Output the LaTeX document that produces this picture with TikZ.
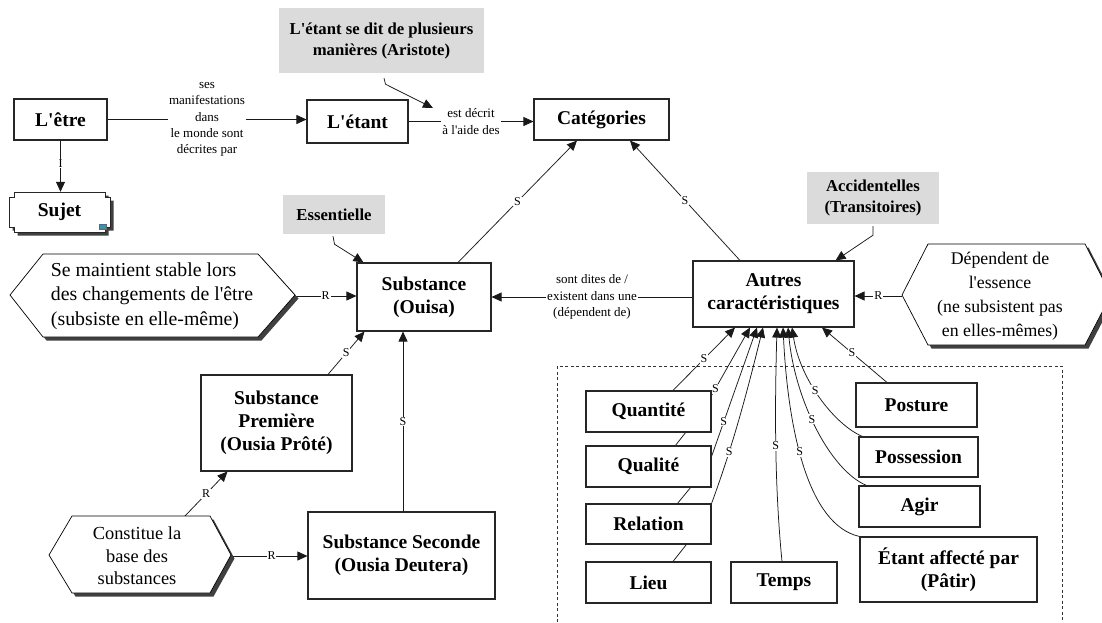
\documentclass[tikz,border=0pt]{standalone}
\usepackage{fontspec}
\setmainfont{Liberation Serif}
\usetikzlibrary{arrows.meta,shadows,backgrounds}
\newcommand{\ap}{\textquotesingle}
\begin{document}
\begin{tikzpicture}[x=1pt,y=-1pt,
  box/.style={draw=black!85, line width=1.1pt, fill=white, align=center, inner sep=0pt, font=\bfseries\fontsize{19.5}{23}\selectfont},
  gbox/.style={fill=black!14, align=center, inner sep=0pt, font=\bfseries\fontsize{16.7}{21}\selectfont},
  htxt/.style={inner sep=0pt},
  hexa/.style={draw=black, line width=0.7pt, fill=white, drop shadow={shadow xshift=3.5pt, shadow yshift=-3.5pt, fill=black!75, opacity=1}},
  lab/.style={fill=white, align=center, inner sep=1pt, font=\fontsize{13}{16.3}\selectfont},
  sl/.style={fill=white, inner sep=0.8pt, font=\fontsize{12}{12}\selectfont},
  arr/.style={draw=black!90, line width=0.75pt, -{Triangle[length=10pt,width=9pt]}},
]
\useasboundingbox (0,0) rectangle (1102,622);

% ---- top row
\node[box, minimum width=93, minimum height=41] (etre) at (60.5,119.5) {L\ap être};
\path[draw=black!85, line width=1pt, fill=white, drop shadow={shadow xshift=3.5pt, shadow yshift=-3.5pt, fill=black!75, opacity=1}]
  (14,192) -- (105,192) -- (105,197) -- (110,197) -- (110,227) -- (105,227) -- (105,232) -- (14,232) -- (14,227) -- (9,227) -- (9,197) -- (14,197) -- cycle;
\filldraw[fill=cyan!45!teal, draw=black!60, line width=0.4pt] (99,224) rectangle (106,229);
\node[inner sep=0pt, minimum width=101, minimum height=40, font=\bfseries\fontsize{19.5}{23}\selectfont] (sujet) at (59.5,212) {Sujet};
\node[box, minimum width=101, minimum height=43] (etant) at (357.5,121.5) {L\ap étant};
\node[box, minimum width=135, minimum height=41] (cat) at (601.5,119.5) {Catégories};
\node[gbox, minimum width=205, minimum height=65] (g1) at (381.5,40.5) {L\ap étant se dit de plusieurs\\manières (Aristote)};

% ---- middle row
\node[box, minimum width=134, minimum height=68] (sub) at (424,297) {Substance\\(Ouisa)};
\node[gbox, minimum width=102, minimum height=39] (ess) at (334,214.5) {Essentielle};
\node[box, minimum width=161, minimum height=66] (aut) at (773.5,294) {Autres\\caractéristiques};
\node[gbox, minimum width=132, minimum height=52] (acc) at (873,198) {Accidentelles\\(Transitoires)};

\path[hexa] (10,295) -- (43,254) -- (258,254) -- (295,295) -- (258,337) -- (43,337) -- cycle;
\node[htxt, align=left, font=\fontsize{19.8}{24.5}\selectfont] (hexL) at (152,296) {Se maintient stable lors\\des changements de l\ap être\\(subsiste en elle-même)};
\coordinate (hexLr) at (295,296);

\path[hexa] (902,295) -- (928,244) -- (1085,244) -- (1111,295) -- (1085,345) -- (928,345) -- cycle;
\node[htxt, align=center, font=\fontsize{17.8}{24}\selectfont] (hexR) at (1000,296) {Dépendent de\\l\ap essence\\(ne subsistent pas\\en elles-mêmes)};
\coordinate (hexRl) at (902,296);

% ---- lower left
\node[box, minimum width=151, minimum height=96] (prem) at (276.5,423) {Substance\\Première\\(Ousia Prôté)};
\node[box, minimum width=187, minimum height=87] (sec) at (401.5,555.5) {Substance Seconde\\(Ousia Deutera)};
\path[hexa] (49,555) -- (72,516) -- (210,516) -- (231,555) -- (210,593) -- (72,593) -- cycle;
\node[htxt, align=center, font=\fontsize{18.4}{22.5}\selectfont] (hexC) at (137,556) {Constitue la\\base des\\substances};
\coordinate (hexCr) at (231,556);
\coordinate (hexCt) at (185,516);

% ---- categories
\node[box, minimum width=125, minimum height=41] (quant) at (648.5,411.5) {Quantité};
\node[box, minimum width=125, minimum height=41] (qual) at (648.5,466.5) {Qualité};
\node[box, minimum width=125, minimum height=40] (rel) at (648.5,524) {Relation};
\node[box, minimum width=125, minimum height=41] (lieu) at (648.5,582.5) {Lieu};
\node[box, minimum width=106, minimum height=41] (temps) at (784,582.5) {Temps};
\node[box, minimum width=121, minimum height=44] (post) at (916.5,405) {Posture};
\node[box, minimum width=119, minimum height=40] (poss) at (918.5,457) {Possession};
\node[box, minimum width=121, minimum height=41] (agir) at (919.5,506.5) {Agir};
\node[box, minimum width=177, minimum height=65] (etat) at (948.5,569.5) {Étant affecté par\\(Pâtir)};

\begin{scope}[on background layer]
\draw[dashed, dash pattern=on 3pt off 2.5pt, line width=0.7pt, black!80] (557,622) -- (557,366) -- (1062,366) -- (1062,622);

\draw[arr] (etre.east) -- node[lab]{ses\\manifestations\\dans\\le monde sont\\décrites par} (etre.east -| etant.west);
\draw[arr] (etant.east) -- node[lab]{est décrit\\à l\ap aide des} (etant.east -| cat.west);
\draw[arr] (etre.south) -- node[sl,pos=0.45]{I} (etre.south |- sujet.north);
\coordinate (m1) at (433,108);
\draw[arr] ([shift={(2.5,5)}]g1.south) -- ++(1.5,6) -- (m1);
\draw[arr] ([shift={(-1,2)}]ess.south) -- ++(1.5,8) -- ([shift={(7,0)}]sub.north west);
\draw[arr] ([shift={(0,2)}]acc.south) -- ++(0,9) -- ([shift={(-19,0)}]aut.north east);
\draw[arr] ([shift={(34,0)}]sub.north) -- node[sl]{S} ([shift={(-24.5,0)}]cat.south);
\draw[arr] ([shift={(-33.5,0)}]aut.north) -- node[sl]{S} ([shift={(28.5,0)}]cat.south);
\draw[arr] (aut.west |- sub.east) -- node[lab]{sont dites de /\\existent dans une\\(dépendent de)} (sub.east);
\draw[arr] (hexRl) -- node[sl]{R} (hexRl -| aut.east);
\draw[arr] (hexLr) -- node[sl]{R} (hexLr -| sub.west);
\draw[arr] ([shift={(51.5,0)}]prem.north) -- node[sl]{S} ([shift={(8,0)}]sub.south west);
\draw[arr] ([shift={(1.5,0)}]sec.north) -- node[sl]{S} ([shift={(1.5,0)}]sec.north |- sub.south);
\draw[arr] (hexCt) -- node[sl]{R} ([shift={(27,0)}]prem.south west);
\draw[arr] (hexCr) -- node[sl,pos=0.53]{R} (hexCr -| sec.west);

\draw[arr] ([shift={(24.5,0)}]lieu.north) -- (686,545) -- (677,504) -- (691,487) -- (675,446) -- (686,432) -- ([shift={(24.5,0)}]quant.north) -- node[sl]{S} ([shift={(-38.5,0)}]aut.south);
\draw[arr] ([shift={(0,5)}]quant.north east) -- node[sl,pos=0.1]{S} ([shift={(-23.5,0)}]aut.south);
\draw[arr] ([shift={(0,11)}]qual.north east) -- node[sl,pos=0.27]{S} ([shift={(-16.5,0)}]aut.south);
\draw[arr] (rel.north east) .. controls (735,440) and (750,380) .. node[sl,pos=0.275]{S} ([shift={(-10.5,0)}]aut.south);
\draw[arr] ([shift={(-2,0)}]temps.north) .. controls (774,480) and (775,400) .. node[sl,pos=0.48]{S} ([shift={(3.5,0)}]aut.south);
\draw[arr] (etat.north west) .. controls (808,525) and (788,430) .. node[sl,pos=0.56]{S} ([shift={(9.5,0)}]aut.south);
\draw[arr] ([shift={(8,0)}]agir.north west) .. controls (830,470) and (795,400) .. node[sl,pos=0.55]{S} ([shift={(14.5,0)}]aut.south);
\draw[arr] ([shift={(4,0)}]poss.north west) .. controls (835,425) and (800,380) .. node[sl,pos=0.56]{S} ([shift={(18.5,0)}]aut.south);
\draw[arr] ([shift={(-29.5,0)}]post.north) -- node[sl,pos=0.54]{S} ([shift={(48.5,0)}]aut.south);
\end{scope}
\end{tikzpicture}
\end{document}
